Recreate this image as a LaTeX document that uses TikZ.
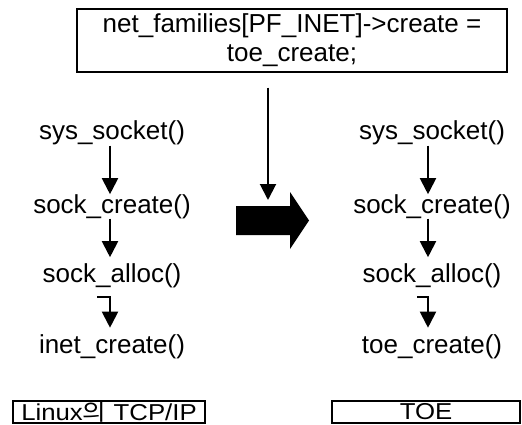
\documentclass[tikz,border=0pt]{standalone}
\usepackage{fontspec}
\setmainfont{Liberation Sans}
\newfontfamily\krfont{Noto Sans CJK KR}
\usetikzlibrary{arrows.meta,calc}
\tikzset{
  fn/.style={inner sep=0pt, anchor=base, text height=18.6pt, text depth=5.5pt, font=\fontsize{26}{29}\selectfont},
  arr/.style={line width=2pt, -{Triangle[length=16pt,width=16pt]}},
  boxed/.style={draw, line width=1.3pt, inner sep=0pt},
  lowtext/.style={font=\fontsize{23}{25}\selectfont},
}
\begin{document}
\begin{tikzpicture}[x=1pt,y=-1pt]
\useasboundingbox (0,0) rectangle (522,425);
% top box
\node[boxed, minimum width=430pt, minimum height=63pt, align=center,
      font=\fontsize{26}{29}\selectfont] (top) at (292,40.5)
  {net\_families[PF\_INET]->create =\\toe\_create;};
% left column
\node[fn] (l1) at (112,140) {sys\_socket()};
\node[fn] (l2) at (112,213) {sock\_create()};
\node[fn] (l3) at (112,282) {sock\_alloc()};
\node[fn] (l4) at (112,353.5) {inet\_create()};
% right column
\node[fn] (r1) at (432,140) {sys\_socket()};
\node[fn] (r2) at (432,213) {sock\_create()};
\node[fn] (r3) at (432,282) {sock\_alloc()};
\node[fn] (r4) at (432,353.5) {toe\_create()};
% arrows left
\draw[arr] ([xshift=-2pt]l1.south) -- ([xshift=-2pt]l2.north);
\draw[arr, shorten >=6pt] ([xshift=-2pt]l2.south) -- ([xshift=-2pt]l3.north);
\draw[arr, shorten >=7pt] ([xshift=-15pt,yshift=-9.5pt]l3.south) -| ([xshift=-2pt]l4.north);
% arrows right
\draw[arr] ([xshift=-4pt]r1.south) -- ([xshift=-4pt]r2.north);
\draw[arr, shorten >=6pt] ([xshift=-4pt]r2.south) -- ([xshift=-4pt]r3.north);
\draw[arr, shorten >=7pt] ([xshift=-15pt,yshift=-9.5pt]r3.south) -| ([xshift=-4pt]r4.north);
% middle arrow
\coordinate (mid) at (268,200);
\draw[arr] ([yshift=-15pt]top.south -| mid) -- (mid);
% big arrow
\fill (236,206) -- (290,206) -- (290,192) -- (309,220.5) -- (290,249) -- (290,235) -- (236,235) -- cycle;
% bottom boxes
\node[boxed, minimum width=192pt, minimum height=22pt, lowtext] (lb) at (109,412)
  {\scalebox{1.12}[1]{Linux{\krfont 의} TCP/IP}};
\node[boxed, minimum width=188pt, minimum height=22pt, lowtext] (rb) at (426,412)
  {\scalebox{1.12}[1]{TOE}};
\end{tikzpicture}
\end{document}
